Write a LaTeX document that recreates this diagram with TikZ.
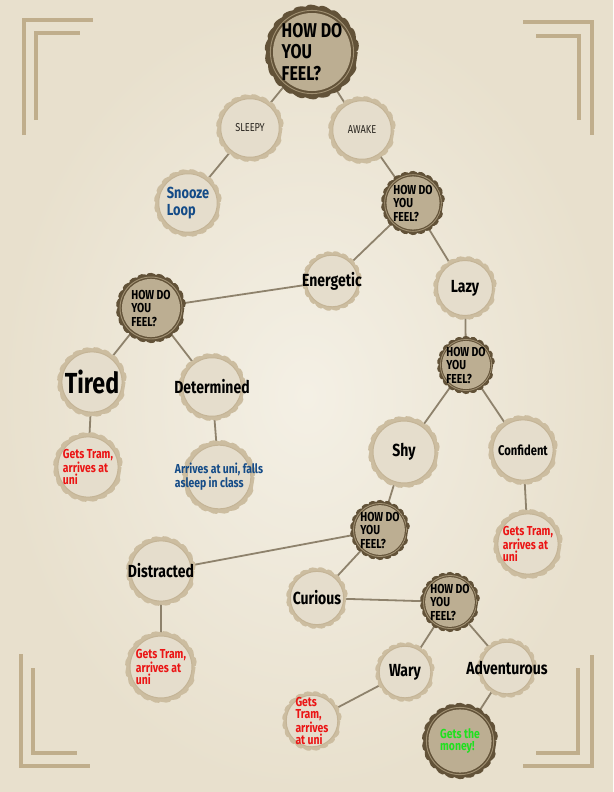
\documentclass[tikz,border=0pt]{standalone}
\usepackage{fontspec}
\newfontfamily\capfont[FakeStretch=0.8]{Fira Sans}
\usetikzlibrary{backgrounds,decorations.pathmorphing}
\definecolor{paperlight}{RGB}{244,240,229}
\definecolor{paperdark}{RGB}{232,224,205}
\definecolor{bracket}{RGB}{192,174,140}
\definecolor{capedge}{RGB}{204,189,160}
\definecolor{capfill}{RGB}{229,221,204}
\definecolor{capring}{RGB}{196,180,150}
\definecolor{darkedge}{RGB}{98,82,56}
\definecolor{darkfill}{RGB}{188,174,146}
\definecolor{darkline}{RGB}{160,144,114}
\definecolor{stemcol}{RGB}{142,130,108}
\definecolor{wakegrey}{RGB}{42,38,32}
\definecolor{tramred}{RGB}{235,20,20}
\definecolor{uniblue}{RGB}{20,75,135}
\definecolor{moneygreen}{RGB}{30,225,30}
\begin{document}
\begin{tikzpicture}[x=1pt, y=-1pt]
        \tikzset{
          bottlecap/.style={circle, inner sep=-30pt, align=left},
          lightcap/.style={bottlecap, minimum size={2*(#1-3)*1pt},
            preaction={fill=capedge, decorate,
              decoration={bumps, mirror, amplitude=2.6pt, segment length={2*pi*(#1-3)*1pt/10}}},
            path picture={
              \fill[capfill] (path picture bounding box.center) circle ({0.86*#1*1pt});
              \draw[capring, line width=1pt] (path picture bounding box.center) circle ({0.86*#1*1pt});}},
          darkcap/.style={bottlecap, minimum size={2*(#1-3)*1pt},
            preaction={fill=darkedge, decorate,
              decoration={bumps, mirror, amplitude=2.8pt, segment length={2*pi*(#1-3)*1pt/11}}},
            path picture={
              \draw[darkline, line width=0.9pt] (path picture bounding box.center) circle ({0.885*#1*1pt});
              \fill[darkfill] (path picture bounding box.center) circle ({0.83*#1*1pt});}},
          bigask/.style={font=\capfont\bfseries\fontsize{20}{21.5}\selectfont},
          ask/.style={font=\capfont\bfseries\fontsize{13}{13.5}\selectfont},
          feel/.style={font=\capfont\bfseries\fontsize{17.5}{18}\selectfont},
          wake/.style={font=\capfont\fontsize{11.5}{11.5}\selectfont, text=wakegrey},
          tram/.style={font=\capfont\bfseries\fontsize{13}{12.5}\selectfont, text=tramred},
          stem/.style={draw=stemcol, line width=1.8pt},
          corner/.style={draw=bracket, line width=4pt},
        }
        \useasboundingbox (0,0) rectangle (613,792);
        \begin{scope}[on background layer]
          \shade[inner color=paperlight, outer color=paperdark] (0,0) rectangle (613,792);
          \draw[corner] (24,135) -- (24,20) -- (93,20);
          \draw[corner] (36,120) -- (36,33) -- (80,33);
          \draw[corner] (523,22) -- (592,22) -- (592,135);
          \draw[corner] (536,36) -- (579,36) -- (579,120);
          \draw[corner] (21,654) -- (21,766) -- (90,766);
          \draw[corner] (33,668) -- (33,753) -- (77,753);
          \draw[corner] (592,655) -- (592,766) -- (523,766);
          \draw[corner] (578,668) -- (578,753) -- (536,753);
        \end{scope}
        % 
        \node [darkcap=47, bigask] (how1) at (312,52) {HOW DO\\YOU\\FEEL?};
        \node [lightcap=34, wake] (sleepy) at (250,128) {SLEEPY};
        \node [lightcap=34, wake] (awake) at (362,130) {AWAKE};
        \node [lightcap=34, font=\capfont\bfseries\fontsize{16}{17}\selectfont, text=uniblue] (snooze) at (188,203) {Snooze\\Loop};
        \node [darkcap=32, ask] (how2) at (413,203) {HOW DO\\YOU\\FEEL?};
        \node [lightcap=30, feel] (energetic) at (332,281) {Energetic};
        \node [lightcap=32, feel] (lazy) at (465,288) {Lazy};
        % 
        \node [darkcap=35, ask] (how3) at (151,308) {HOW DO\\YOU\\FEEL?};
        \node [lightcap=35, font=\capfont\bfseries\fontsize{29}{29}\selectfont] (tired) at (92,382) {Tired};
        \node [lightcap=34, feel] (determined) at (212,387) {Determined};
        \node [lightcap=35, tram] (tiredres) at (88,467) {Gets Tram,\\arrives at\\uni};
        \node [lightcap=37, tram, text=uniblue] (detres) at (219,477) {Arrives at uni, falls\\asleep in class};
        % 
        \node [darkcap=29, ask] (how4) at (466,365) {HOW DO\\YOU\\FEEL?};
        \node [lightcap=36, feel] (shy) at (404,452) {Shy};
        \node [lightcap=35, feel, font=\capfont\bfseries\fontsize{14}{14}\selectfont] (confident) at (523,450) {Confident};
        \node [lightcap=35, tram] (confres) at (528,544) {Gets Tram,\\arrives at\\uni};
        % 
        \node [darkcap=30, ask] (how5) at (380,530) {HOW DO\\YOU\\FEEL?};
        \node [lightcap=35, feel] (distracted) at (161,571) {Distracted};
        \node [lightcap=31, feel] (curious) at (317,598) {Curious};
        \node [lightcap=36, tram] (distres) at (161,667) {Gets Tram,\\arrives at\\uni};
        % 
        \node [darkcap=30, ask] (how6) at (450,602) {HOW DO\\YOU\\FEEL?};
        \node [lightcap=30, feel] (wary) at (405,672) {Wary};
        \node [lightcap=30, feel] (adventurous) at (507,668) {Adventurous};
        \node [lightcap=30, tram] (waryres) at (312,721) {Gets\\Tram,\\arrives\\at uni};
        \node [darkcap=38, tram, text=moneygreen] (money) at (460,741) {Gets the\\money!};
        % 
        \begin{scope}[on background layer]
          \draw[stem] (how1) -- (sleepy);
          \draw[stem] (how1) -- (awake);
          \draw[stem] (sleepy) -- (snooze);
          \draw[stem] (awake) -- (how2);
          \draw[stem] (how2) -- (energetic);
          \draw[stem] (how2) -- (lazy);
          \draw[stem] (energetic) -- (how3);
          \draw[stem] (how3) -- (tired);
          \draw[stem] (how3) -- (determined);
          \draw[stem] (tired) -- (tiredres);
          \draw[stem] (determined) -- (detres);
          \draw[stem] (lazy) -- (how4);
          \draw[stem] (how4) -- (shy);
          \draw[stem] (how4) -- (confident);
          \draw[stem] (confident) -- (confres);
          \draw[stem] (shy) -- (how5);
          \draw[stem] (how5) -- (distracted);
          \draw[stem] (how5) -- (curious);
          \draw[stem] (distracted) -- (distres);
          \draw[stem] (curious) -- (how6);
          \draw[stem] (how6) -- (wary);
          \draw[stem] (how6) -- (adventurous);
          \draw[stem] (wary) -- (waryres);
          \draw[stem] (adventurous) -- (money);
        \end{scope}
    \end{tikzpicture}
\end{document}
